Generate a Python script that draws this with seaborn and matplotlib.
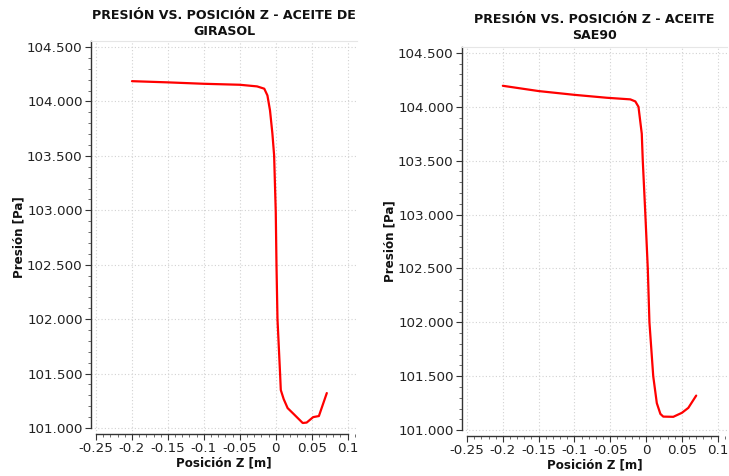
import numpy as np
import pandas as pd
import seaborn as sns
import matplotlib.pyplot as plt
from matplotlib.ticker import FuncFormatter, MultipleLocator

# Pressure along the Z axis for two oils
z_girasol = [-0.200, -0.150, -0.100, -0.050, -0.026, -0.016, -0.0116, -0.008, -0.0047,
             -0.0023, 0.000, 0.001, 0.0024, 0.006, 0.007, 0.011, 0.0165, 0.025,
             0.0375, 0.043, 0.052, 0.060, 0.071]
p_girasol = [104186, 104175, 104162, 104153, 104138, 104117, 104055, 103917, 103706,
             103505, 102982, 102500, 102000, 101500, 101349, 101266, 101183, 101128,
             101046, 101050, 101100, 101110, 101321]

z_sae90 = [-0.200, -0.150, -0.100, -0.055, -0.022, -0.015, -0.0106, -0.006, -0.0046,
           -0.001, 0.0024, 0.0047, 0.010, 0.015, 0.020, 0.024, 0.038,
           0.050, 0.059, 0.070]
p_sae90 = [104195, 104146, 104111, 104084, 104069, 104050, 104000, 103750, 103500,
           103000, 102500, 102000, 101500, 101250, 101150, 101125, 101123,
           101160, 101206, 101320]

titles = ["PRESIÓN VS. POSICIÓN Z - ACEITE DE\nGIRASOL",
          "PRESIÓN VS. POSICIÓN Z - ACEITE\nSAE90"]
x_label = "Posición Z [m]"
y_label = "Presión [Pa]"
x_ticks = [-0.25, -0.2, -0.15, -0.1, -0.05, 0, 0.05, 0.1]
y_ticks = [101000, 101500, 102000, 102500, 103000, 103500, 104000, 104500]

sns.set_theme(style="white")
plt.rcParams['font.family'] = ['DejaVu Sans']

fig = plt.figure(figsize=(7.29, 4.76), dpi=100)
W, H = 729, 476
panels = [
    # left, right, top, bottom in pixels
    (91, 357, 41, 434),
    (462, 727, 47, 436),
]
series = [(z_girasol, p_girasol), (z_sae90, p_sae90)]
title_pad = [4, 6]


def fmt_x(v, pos):
    s = f"{v:.2f}".rstrip('0').rstrip('.')
    if s in ("-0", "0"):
        return "0"
    return s


def fmt_y(v, pos):
    return f"{v/1000:.3f}"


for i, ((l, r, t, b), (zz, pp)) in enumerate(zip(panels, series)):
    ax = fig.add_axes([l / W, 1 - b / H, (r - l) / W, (b - t) / H])
    df = pd.DataFrame({"z": zz, "p": pp})
    sns.lineplot(data=df, x="z", y="p", sort=False, color="#ff0000",
                 linewidth=1.6, ax=ax)
    ax.set_xlim(-0.257, 0.113)
    ax.set_ylim(100945, 104555)
    ax.set_xticks(x_ticks)
    ax.set_yticks(y_ticks)
    ax.xaxis.set_major_formatter(FuncFormatter(fmt_x))
    ax.yaxis.set_major_formatter(FuncFormatter(fmt_y))
    ax.xaxis.set_minor_locator(MultipleLocator(0.01))
    ax.yaxis.set_minor_locator(MultipleLocator(100))
    ax.tick_params(axis='both', which='major', length=4, width=0.8,
                   color='#333333', labelsize=9.7, labelcolor='#222222', pad=2,
                   bottom=True, left=True)
    ax.tick_params(axis='both', which='minor', length=2, width=0.6,
                   color='#555555', bottom=True, left=True)
    ax.grid(True, which='major', color='#d2d2d2', linestyle=(0, (1, 2)),
            linewidth=0.8)
    for side in ('left', 'bottom'):
        ax.spines[side].set_color('#333333')
        ax.spines[side].set_linewidth(1.0)
    ax.spines['left'].set_bounds(101000, 104555)
    ax.spines['bottom'].set_bounds(-0.25, 0.1)
    ax.spines['top'].set_color('#e6e6e6')
    ax.spines['top'].set_linewidth(0.8)
    ax.spines['right'].set_visible(False)
    ax.set_title(titles[i], fontsize=9.1, fontweight='bold', color='#111111',
                 pad=title_pad[i], linespacing=1.3)
    ax.set_xlabel(x_label, fontsize=8.6, fontweight='bold', color='#111111',
                  labelpad=1)
    ax.set_ylabel(y_label, fontsize=8.6, fontweight='bold', color='#111111',
                  labelpad=1)

fig.savefig("out.png", dpi=100, facecolor='white')
